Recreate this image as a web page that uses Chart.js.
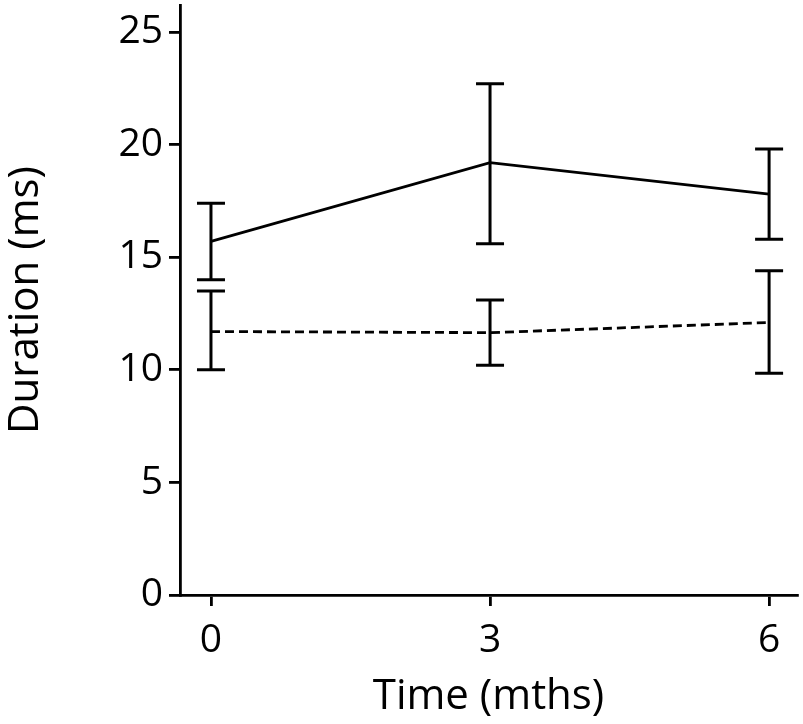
<!DOCTYPE html>
<html>
<head>
<meta charset="utf-8">
<script src="https://cdn.jsdelivr.net/npm/chart.js@4"></script>
<style>
  body { margin: 0; background: #fff; }
  #wrap { width: 803px; height: 724px; }
</style>
</head>
<body>
<div id="wrap"><canvas id="duration"></canvas></div>
<script>
// values
var months = [0, 3, 6];
var solidMean = [15.7, 19.2, 17.8];
var solidLow = [14.0, 15.6, 15.8];
var solidHigh = [17.4, 22.7, 19.8];
var dashedMean = [11.7, 11.65, 12.1];
var dashedLow = [10.0, 10.2, 9.85];
var dashedHigh = [13.5, 13.1, 14.4];
var xTicks = [0, 3, 6];
var yTicks = [0, 5, 10, 15, 20, 25];

var FONT = "'Open Sans', sans-serif";

function pts(xs, ys) {
    return xs.map(function (v, i) { return { x: v, y: ys[i] }; });
}

// whiskers with caps, drawn through the chart scales
var errorBars = {
    id: 'errorBars',
    afterDatasetsDraw: function (chart) {
        var ctx = chart.ctx, x = chart.scales.x, y = chart.scales.y;
        var groups = [[solidLow, solidHigh], [dashedLow, dashedHigh]];
        ctx.save();
        ctx.strokeStyle = '#000';
        ctx.lineWidth = 3;
        ctx.setLineDash([]);
        groups.forEach(function (g) {
            months.forEach(function (m, i) {
                var px = x.getPixelForValue(m);
                var lo = y.getPixelForValue(g[0][i]);
                var hi = y.getPixelForValue(g[1][i]);
                ctx.beginPath();
                ctx.moveTo(px, lo); ctx.lineTo(px, hi);
                ctx.moveTo(px - 14, lo); ctx.lineTo(px + 14, lo);
                ctx.moveTo(px - 14, hi); ctx.lineTo(px + 14, hi);
                ctx.stroke();
            });
        });
        ctx.restore();
    }
};

var ctx = document.getElementById('duration').getContext('2d');

var durationChart = new Chart(ctx, {
    type: 'line',
    data: {
        datasets: [{
            label: 'solid',
            data: pts(months, solidMean),
            borderColor: '#000',
            borderWidth: 2.8,
            pointRadius: 0,
            fill: false
        }, {
            label: 'dashed',
            data: pts(months, dashedMean),
            borderColor: '#000',
            borderWidth: 2.8,
            borderDash: [9, 5],
            pointRadius: 0,
            fill: false
        }]
    },
    options: {
        responsive: true,
        maintainAspectRatio: false,
        animation: false,
        layout: { padding: { top: 5, right: 6, left: 0, bottom: 0 } },
        plugins: { legend: { display: false }, tooltip: { enabled: false } },
        scales: {
            x: {
                type: 'linear',
                min: -0.333,
                max: 6.3,
                afterBuildTicks: function (s) { s.ticks = xTicks.map(function (v) { return { value: v }; }); },
                afterFit: function (s) { s.height = 129; s.paddingLeft = 0; s.paddingRight = 0; },
                grid: { drawOnChartArea: false, color: '#000', lineWidth: 2.8, tickLength: 11 },
                border: { color: '#000', width: 2.8 },
                ticks: { color: '#000', padding: 11, font: { family: FONT, size: 39 }, maxRotation: 0 },
                title: {
                    display: true,
                    text: 'Time (mths)',
                    color: '#000',
                    font: { family: FONT, size: 42 },
                    padding: { top: 0, bottom: 2 }
                }
            },
            y: {
                min: 0,
                max: 26.2,
                afterBuildTicks: function (s) { s.ticks = yTicks.map(function (v) { return { value: v }; }); },
                afterFit: function (s) { s.width = 180; s.paddingTop = 0; s.paddingBottom = 0; },
                grid: { drawOnChartArea: false, color: '#000', lineWidth: 2.8, tickLength: 11 },
                border: { color: '#000', width: 2.8 },
                ticks: { color: '#000', padding: 6, font: { family: FONT, size: 39 } },
                title: {
                    display: true,
                    text: 'Duration (ms)',
                    color: '#000',
                    font: { family: FONT, size: 42 },
                    padding: { top: 1, bottom: 0 }
                }
            }
        }
    },
    plugins: [errorBars]
});
</script>
</body>
</html>
